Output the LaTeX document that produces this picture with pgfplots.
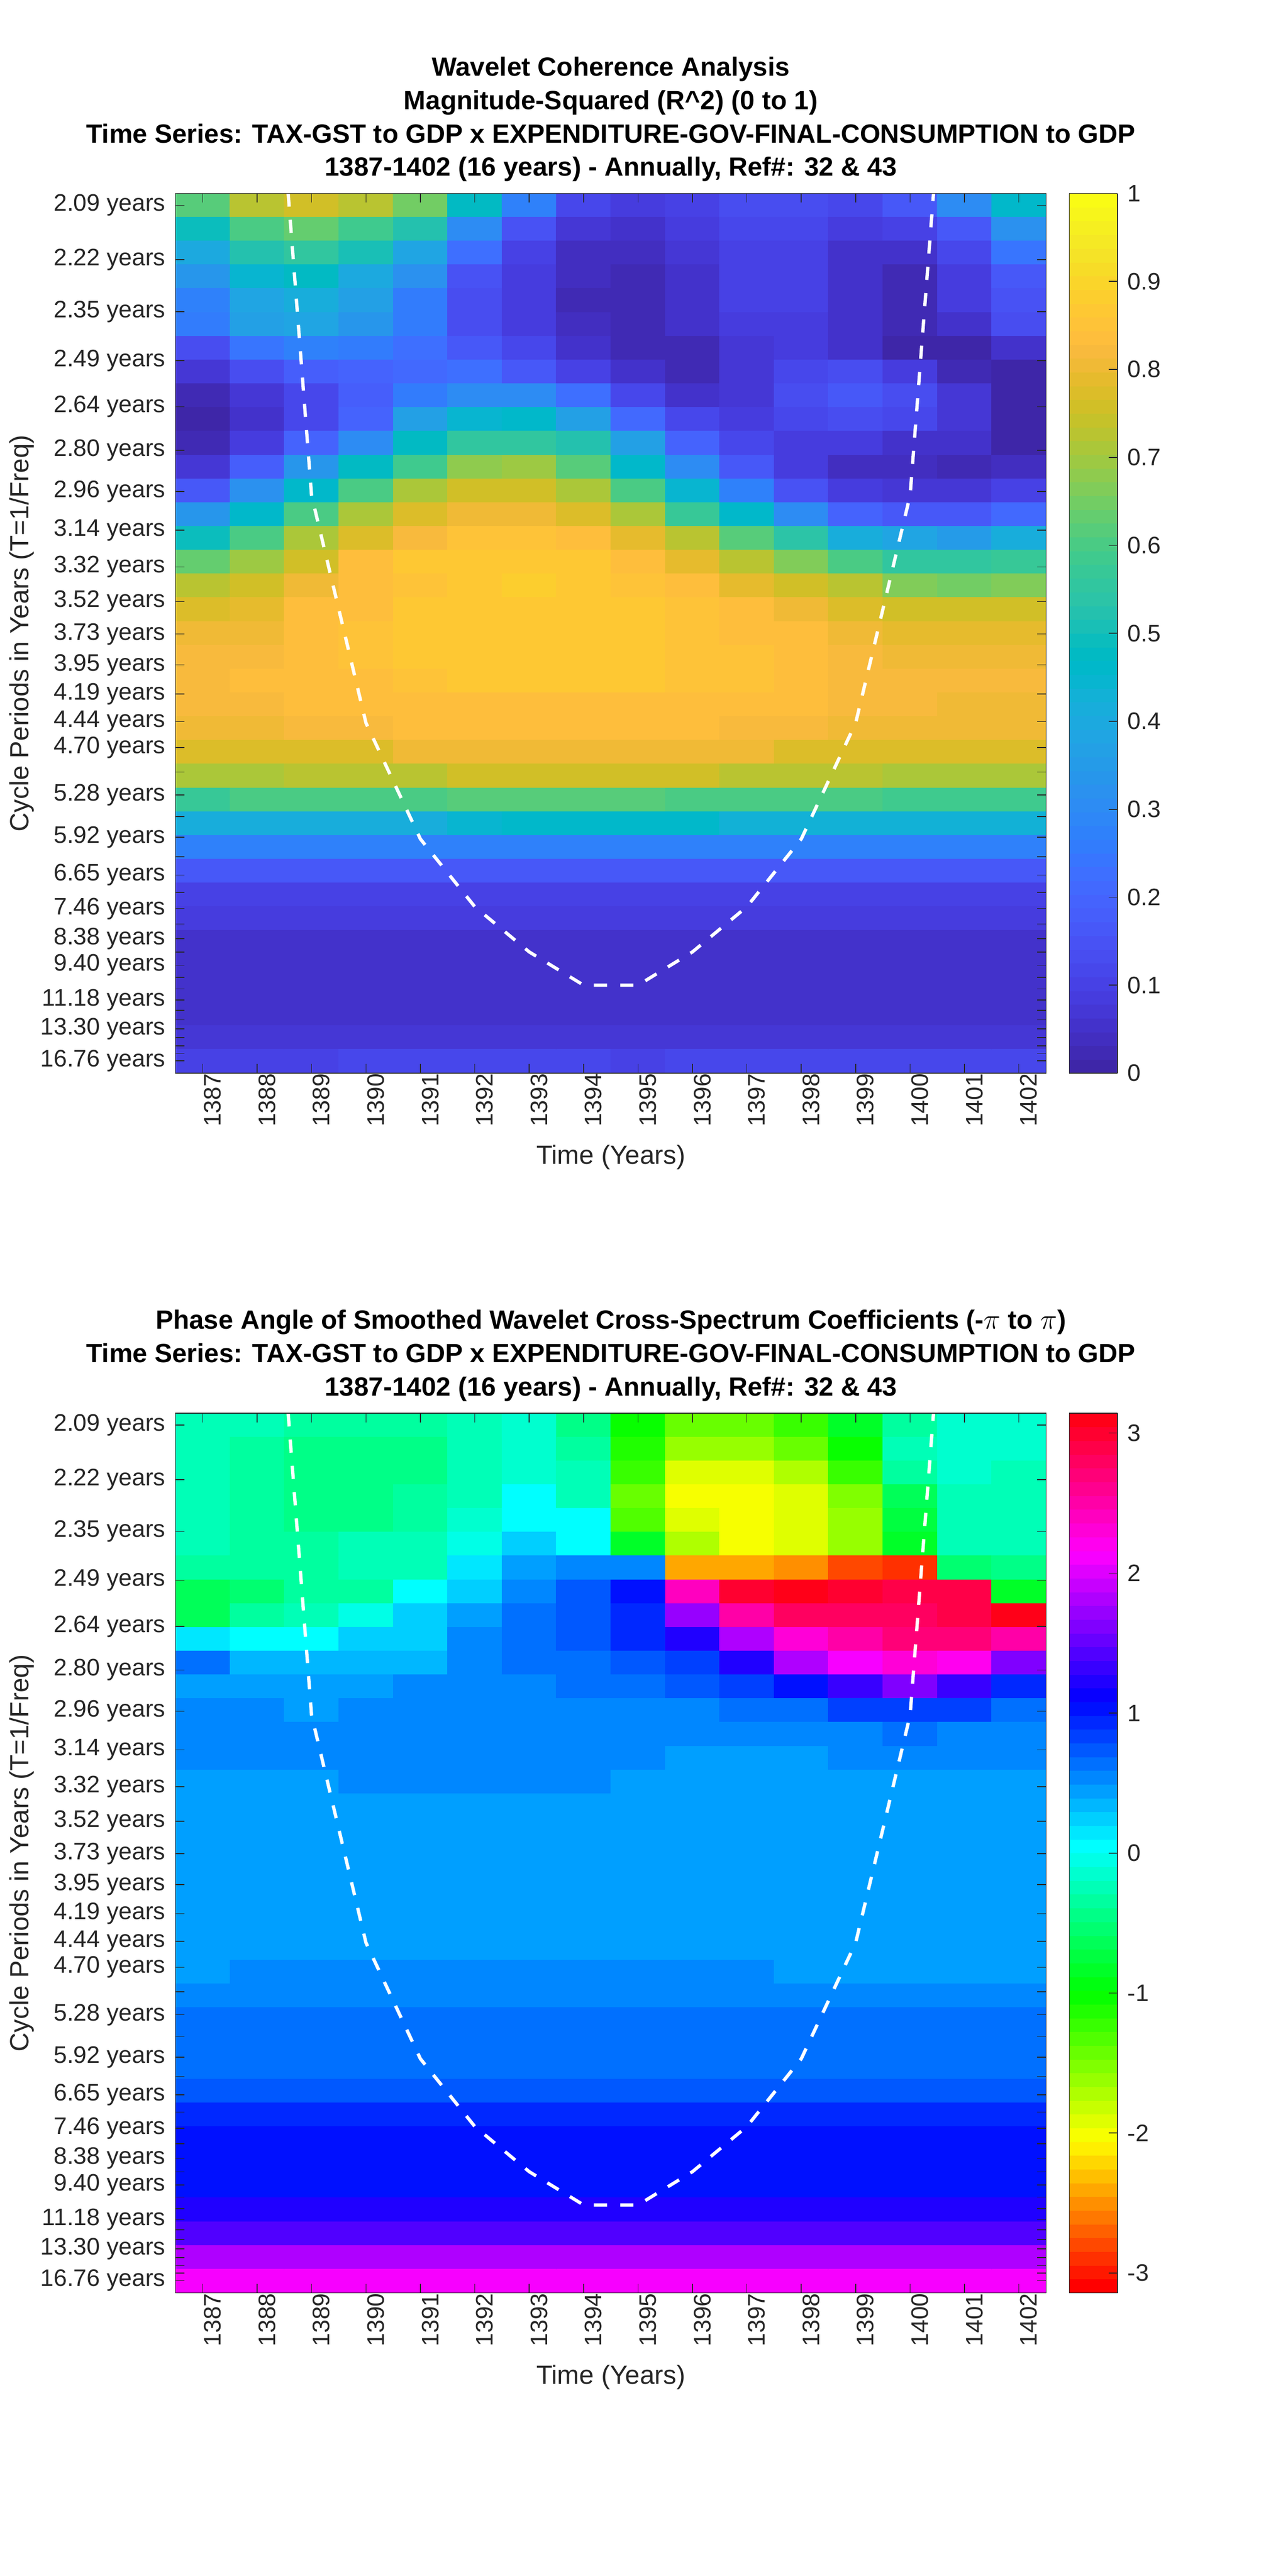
\documentclass[border=0pt]{standalone}
\usepackage{fontspec}
\setmainfont{Liberation Sans}
\usepackage{pgfplots}
\pgfplotsset{compat=1.18}
\definecolor{axgray}{HTML}{262626}
\newcommand{\tickfont}{\fontsize{14.5}{17}\selectfont}
\newcommand{\labfont}{\fontsize{16}{19}\selectfont}
\newcommand{\titfont}{\fontsize{16}{20.25}\selectfont\bfseries}

\pgfplotsset{
  colormap={parula}{
    rgb=(0.2422,0.1504,0.6603) rgb=(0.2504,0.1650,0.7076) rgb=(0.2578,0.1818,0.7511) rgb=(0.2647,0.1978,0.7952)
    rgb=(0.2706,0.2147,0.8364) rgb=(0.2751,0.2342,0.8710) rgb=(0.2783,0.2559,0.8991) rgb=(0.2803,0.2782,0.9221)
    rgb=(0.2813,0.3006,0.9414) rgb=(0.2810,0.3228,0.9579) rgb=(0.2795,0.3447,0.9717) rgb=(0.2760,0.3667,0.9829)
    rgb=(0.2699,0.3892,0.9906) rgb=(0.2602,0.4123,0.9952) rgb=(0.2440,0.4358,0.9988) rgb=(0.2206,0.4603,0.9973)
    rgb=(0.1963,0.4847,0.9892) rgb=(0.1834,0.5074,0.9798) rgb=(0.1786,0.5289,0.9682) rgb=(0.1764,0.5499,0.9520)
    rgb=(0.1687,0.5703,0.9359) rgb=(0.1540,0.5902,0.9218) rgb=(0.1460,0.6091,0.9079) rgb=(0.1380,0.6276,0.8973)
    rgb=(0.1248,0.6459,0.8883) rgb=(0.1113,0.6635,0.8763) rgb=(0.0952,0.6798,0.8598) rgb=(0.0689,0.6948,0.8394)
    rgb=(0.0297,0.7082,0.8163) rgb=(0.0036,0.7203,0.7917) rgb=(0.0067,0.7312,0.7660) rgb=(0.0433,0.7411,0.7394)
    rgb=(0.0964,0.7500,0.7120) rgb=(0.1408,0.7584,0.6842) rgb=(0.1717,0.7670,0.6554) rgb=(0.1938,0.7758,0.6251)
    rgb=(0.2161,0.7843,0.5923) rgb=(0.2470,0.7918,0.5567) rgb=(0.2906,0.7973,0.5188) rgb=(0.3406,0.8008,0.4789)
    rgb=(0.3909,0.8029,0.4354) rgb=(0.4456,0.8024,0.3909) rgb=(0.5044,0.7993,0.3480) rgb=(0.5616,0.7942,0.3045)
    rgb=(0.6174,0.7876,0.2612) rgb=(0.6720,0.7793,0.2227) rgb=(0.7242,0.7698,0.1910) rgb=(0.7738,0.7598,0.1646)
    rgb=(0.8203,0.7498,0.1535) rgb=(0.8634,0.7406,0.1596) rgb=(0.9035,0.7330,0.1774) rgb=(0.9393,0.7288,0.2100)
    rgb=(0.9728,0.7298,0.2394) rgb=(0.9956,0.7434,0.2371) rgb=(0.9970,0.7659,0.2199) rgb=(0.9952,0.7861,0.1999)
    rgb=(0.9892,0.8085,0.1816) rgb=(0.9786,0.8350,0.1639) rgb=(0.9676,0.8631,0.1521) rgb=(0.9610,0.8890,0.1537)
    rgb=(0.9597,0.9135,0.1423) rgb=(0.9628,0.9373,0.1265) rgb=(0.9691,0.9606,0.1064) rgb=(0.9769,0.9839,0.0805)
  },
  colormap={hsvbase}{
    rgb(0pt)=(1,0,0) rgb(10.667pt)=(1,1,0) rgb(21.333pt)=(0,1,0) rgb(32pt)=(0,1,1)
    rgb(42.667pt)=(0,0,1) rgb(53.333pt)=(1,0,1) rgb(63pt)=(1,0,0.094)
  },
  colormap={hsv64}{samples of colormap=(64 of hsvbase)},
  every axis title shift/.style={yshift=0pt},
  wavelet/.style={
    scale only axis, width=528.25pt, height=533.75pt,
    anchor=south west,
    xmin=1386.5, xmax=1402.5, ymin=0.5, ymax=37.5, y dir=reverse,
    axis on top, enlargelimits=false,
    colormap access=piecewise constant,
    /pgf/number format/1000 sep={},
    /pgf/number format/assume math mode=true,
    xtick={1387,...,1402},
    ytick={1,3.29,5.47,7.53,9.47,11.30,13.03,14.66,16.21,17.66,19.03,20.33,21.55,22.71,23.80,24.83,25.80,26.71,27.58,28.40,29.17,29.89,30.58,31.23,31.84,32.41,32.96,33.47,33.96,34.42,34.85,35.26,35.64,36.01,36.35,36.67,36.98},
    yticklabels={2.09 years,2.22 years,2.35 years,2.49 years,2.64 years,2.80 years,2.96 years,3.14 years,3.32 years,3.52 years,3.73 years,3.95 years,4.19 years,4.44 years,4.70 years,,5.28 years,,5.92 years,,6.65 years,,7.46 years,,8.38 years,,9.40 years,,,11.18 years,,,13.30 years,,,,16.76 years},
    tick align=inside, tick pos=both, xticklabel pos=bottom, yticklabel pos=left,
    major tick length=5.5pt,
    tick style={axgray, line width=0.5pt},
    axis line style={axgray, line width=0.5pt},
    xticklabel style={font=\tickfont, text=axgray, rotate=90, anchor=east, inner sep=0pt, yshift=-6pt},
    yticklabel style={font=\tickfont, text=axgray, anchor=east, inner sep=0pt, xshift=-6pt},
    xlabel={Time (Years)},
    ylabel={Cycle Periods in Years (T=1/Freq)},
    xlabel style={font=\labfont, text=axgray, at={(axis description cs:0.5,-0.1035)}, anchor=base, inner sep=0pt},
    ylabel style={font=\labfont, text=axgray, at={(axis description cs:-0.169,0.5)}, anchor=base, rotate=0, inner sep=0pt},
    title style={font=\titfont, align=center, at={(axis description cs:0.5,1)}, anchor=south, inner sep=0pt, yshift=1pt},
    colorbar sampled,
    colorbar style={
      at={(1.0265,1)}, anchor=north west,
      width=29.25pt, samples=65,
      xtick=\empty,
      tick align=inside, ytick pos=right, yticklabel pos=right,
      major tick length=5.25pt,
      tick style={axgray, line width=0.5pt},
      axis line style={axgray, line width=0.5pt},
      yticklabel style={font=\tickfont, text=axgray, anchor=west, inner sep=0pt, xshift=6pt},
    },
  },
  wcell/.style={matrix plot*, mesh/cols=16, mesh/rows=37, point meta=explicit, draw=none},
  coi/.style={white, line width=2pt, dash pattern=on 8pt off 8pt, no markers, forget plot},
}

\begin{document}
\begin{tikzpicture}
\path[use as bounding box] (0,0) rectangle (781.25pt,1563pt);

\begin{axis}[
  wavelet, at={(106.5pt,911.85pt)},
  colormap name=parula, point meta min=0, point meta max=1,
  title={Wavelet Coherence Analysis\\Magnitude-Squared (R\textasciicircum 2) (0 to 1)\\Time Series: TAX-GST to GDP x EXPENDITURE-GOV-FINAL-CONSUMPTION to GDP\\1387-1402 (16 years) - Annually, Ref\#: 32 \& 43},
  colorbar style={ytick={0,0.1,...,1}, yticklabels={0,0.1,0.2,0.3,0.4,0.5,0.6,0.7,0.8,0.9,1}},
]
\addplot[wcell] table[row sep=crcr, x expr={1387+mod(\coordindex,16)}, y expr={1+int((\coordindex+0.5)/16)}, meta=v] {v\\%
.62\\.72\\.75\\.73\\.65\\.47\\.27\\.11\\.08\\.10\\.13\\.13\\.12\\.16\\.30\\.46\\%
.49\\.60\\.64\\.59\\.53\\.31\\.15\\.07\\.06\\.08\\.11\\.11\\.08\\.10\\.17\\.32\\%
.40\\.53\\.56\\.50\\.39\\.22\\.10\\.04\\.04\\.07\\.10\\.10\\.05\\.06\\.12\\.24\\%
.33\\.44\\.47\\.40\\.32\\.15\\.08\\.04\\.02\\.05\\.10\\.10\\.05\\.03\\.09\\.17\\%
.27\\.39\\.42\\.37\\.26\\.13\\.08\\.03\\.02\\.05\\.10\\.10\\.05\\.03\\.08\\.15\\%
.25\\.37\\.39\\.34\\.25\\.14\\.09\\.04\\.02\\.05\\.09\\.09\\.05\\.03\\.06\\.13\\%
.14\\.24\\.28\\.26\\.22\\.17\\.12\\.05\\.03\\.03\\.07\\.08\\.06\\.01\\.01\\.05\\%
.07\\.13\\.18\\.19\\.21\\.22\\.17\\.10\\.05\\.03\\.07\\.12\\.13\\.08\\.03\\.01\\%
.02\\.07\\.12\\.18\\.26\\.31\\.30\\.22\\.12\\.05\\.07\\.13\\.16\\.13\\.07\\.01\\%
.00\\.05\\.11\\.20\\.36\\.44\\.46\\.37\\.21\\.11\\.08\\.11\\.13\\.11\\.07\\.01\\%
.03\\.09\\.19\\.31\\.47\\.56\\.56\\.52\\.37\\.19\\.11\\.08\\.08\\.06\\.05\\.01\\%
.07\\.18\\.33\\.47\\.58\\.68\\.69\\.61\\.46\\.30\\.16\\.09\\.04\\.04\\.03\\.04\\%
.17\\.32\\.46\\.60\\.71\\.76\\.76\\.71\\.60\\.45\\.27\\.15\\.09\\.07\\.07\\.10\\%
.34\\.46\\.60\\.71\\.78\\.80\\.80\\.78\\.71\\.57\\.46\\.31\\.20\\.17\\.17\\.21\\%
.49\\.60\\.71\\.77\\.82\\.85\\.85\\.83\\.79\\.72\\.61\\.54\\.41\\.38\\.35\\.42\\%
.63\\.70\\.76\\.83\\.86\\.87\\.87\\.87\\.84\\.79\\.73\\.66\\.60\\.55\\.55\\.57\\%
.72\\.76\\.80\\.83\\.85\\.87\\.88\\.87\\.85\\.83\\.79\\.75\\.72\\.66\\.65\\.66\\%
.78\\.79\\.83\\.84\\.86\\.87\\.87\\.87\\.87\\.85\\.83\\.80\\.78\\.75\\.75\\.75\\%
.80\\.81\\.83\\.85\\.87\\.87\\.87\\.87\\.87\\.85\\.835\\.83\\.81\\.79\\.79\\.79\\%
.82\\.82\\.835\\.85\\.87\\.87\\.87\\.87\\.87\\.85\\.85\\.84\\.82\\.80\\.80\\.80\\%
.82\\.83\\.83\\.84\\.85\\.87\\.87\\.87\\.87\\.85\\.85\\.84\\.82\\.82\\.82\\.82\\%
.82\\.82\\.83\\.83\\.84\\.84\\.84\\.84\\.84\\.84\\.83\\.83\\.82\\.82\\.80\\.80\\%
.80\\.80\\.82\\.82\\.83\\.83\\.83\\.83\\.83\\.83\\.82\\.82\\.80\\.80\\.80\\.80\\%
.77\\.78\\.78\\.78\\.80\\.80\\.80\\.80\\.80\\.80\\.80\\.78\\.78\\.78\\.77\\.77\\%
.71\\.71\\.73\\.73\\.73\\.75\\.75\\.75\\.75\\.75\\.73\\.73\\.73\\.71\\.71\\.71\\%
.57\\.60\\.60\\.60\\.60\\.62\\.62\\.62\\.62\\.60\\.60\\.60\\.60\\.58\\.58\\.58\\%
.42\\.42\\.42\\.42\\.42\\.44\\.46\\.46\\.46\\.46\\.43\\.43\\.43\\.43\\.43\\.43\\%
.28\\.28\\.28\\.28\\.28\\.28\\.28\\.28\\.28\\.28\\.28\\.28\\.28\\.28\\.28\\.28\\%
.165\\.165\\.165\\.165\\.165\\.165\\.165\\.165\\.165\\.165\\.165\\.165\\.165\\.165\\.165\\.165\\%
.105\\.105\\.105\\.105\\.105\\.105\\.105\\.105\\.105\\.105\\.105\\.105\\.105\\.105\\.105\\.105\\%
.08\\.08\\.08\\.08\\.08\\.08\\.08\\.08\\.08\\.08\\.08\\.08\\.08\\.08\\.08\\.08\\%
.06\\.06\\.06\\.06\\.06\\.06\\.06\\.06\\.06\\.06\\.06\\.06\\.06\\.06\\.06\\.06\\%
.055\\.055\\.055\\.055\\.055\\.055\\.055\\.055\\.055\\.055\\.055\\.055\\.055\\.055\\.055\\.055\\%
.055\\.055\\.055\\.055\\.055\\.055\\.055\\.055\\.055\\.055\\.055\\.055\\.055\\.055\\.055\\.055\\%
.055\\.055\\.055\\.055\\.055\\.055\\.055\\.055\\.055\\.055\\.055\\.055\\.055\\.055\\.055\\.055\\%
.07\\.07\\.07\\.07\\.07\\.07\\.07\\.07\\.07\\.07\\.07\\.07\\.07\\.07\\.07\\.07\\%
.105\\.105\\.105\\.115\\.115\\.115\\.115\\.115\\.105\\.115\\.115\\.115\\.115\\.115\\.115\\.115\\%
};
\addplot[coi] coordinates {(1388.57,0.5) (1389,13.2) (1390,22.77) (1391,27.65) (1392,30.5) (1393,32.4) (1394,33.8) (1395,33.8) (1396,32.4) (1397,30.5) (1398,27.65) (1399,22.77) (1400,13.2) (1400.43,0.5)};
\end{axis}

\begin{axis}[
  wavelet, at={(106.5pt,171.75pt)},
  colormap name=hsv64, point meta min=-3.14159, point meta max=3.14159,
  title={Phase Angle of Smoothed Wavelet Cross-Spectrum Coefficients (-$\pi$ to $\pi$)\\Time Series: TAX-GST to GDP x EXPENDITURE-GOV-FINAL-CONSUMPTION to GDP\\1387-1402 (16 years) - Annually, Ref\#: 32 \& 43},
  colorbar style={ytick={-3,-2,-1,0,1,2,3}, yticklabels={-3,-2,-1,0,1,2,3}},
]
\addplot[wcell] table[row sep=crcr, x expr={1387+mod(\coordindex,16)}, y expr={1+int((\coordindex+0.5)/16)}, meta=v] {v\\%
-.27\\-.27\\-.39\\-.39\\-.39\\-.27\\-.19\\-.42\\-1.05\\-1.47\\-1.47\\-1.25\\-.79\\-.32\\-.16\\-.16\\%
-.27\\-.37\\-.42\\-.42\\-.42\\-.27\\-.19\\-.32\\-1.1\\-1.65\\-1.65\\-1.47\\-1.05\\-.27\\-.16\\-.16\\%
-.27\\-.37\\-.42\\-.42\\-.42\\-.27\\-.13\\-.27\\-1.25\\-1.87\\-1.87\\-1.75\\-1.25\\-.37\\-.16\\-.21\\%
-.27\\-.37\\-.42\\-.42\\-.32\\-.25\\0\\-.25\\-1.47\\-1.97\\-1.97\\-1.87\\-1.53\\-.63\\-.27\\-.27\\%
-.27\\-.37\\-.42\\-.42\\-.32\\-.16\\.08\\0\\-1.32\\-1.87\\-1.97\\-1.87\\-1.65\\-.78\\-.27\\-.27\\%
-.27\\-.37\\-.37\\-.27\\-.27\\-.03\\.2\\.08\\-.84\\-1.75\\-1.97\\-1.87\\-1.65\\-.8\\-.27\\-.27\\%
-.37\\-.37\\-.37\\-.27\\-.27\\.1\\.4\\.5\\.5\\-2.44\\-2.44\\-2.55\\-2.75\\-2.86\\-.52\\-.42\\%
-.63\\-.52\\-.39\\-.32\\0\\.2\\.52\\.76\\1.05\\2.44\\3.01\\3.14\\3.01\\2.93\\2.93\\-.79\\%
-.63\\-.37\\-.27\\-.09\\.2\\.4\\.66\\.78\\.98\\1.68\\2.48\\2.79\\2.79\\2.79\\2.93\\3.13\\%
.1\\0\\0\\.21\\.29\\.55\\.68\\.76\\.9\\1.2\\1.77\\2.28\\2.55\\2.7\\2.7\\2.5\\%
.6\\.3\\.3\\.3\\.38\\.55\\.62\\.66\\.75\\.87\\1.2\\1.77\\2.09\\2.28\\2.2\\1.6\\%
.49\\.42\\.42\\.42\\.5\\.5\\.5\\.6\\.6\\.75\\.82\\1.05\\1.35\\1.6\\1.35\\.95\\%
.5\\.5\\.42\\.5\\.5\\.5\\.5\\.5\\.5\\.5\\.6\\.68\\.82\\.82\\.82\\.6\\%
.5\\.5\\.5\\.5\\.5\\.5\\.5\\.5\\.5\\.5\\.5\\.5\\.5\\.6\\.5\\.5\\%
.5\\.5\\.5\\.5\\.5\\.5\\.5\\.5\\.5\\.42\\.42\\.42\\.5\\.5\\.5\\.5\\%
.42\\.42\\.42\\.5\\.5\\.5\\.5\\.5\\.42\\.42\\.42\\.42\\.42\\.42\\.42\\.42\\%
.42\\.42\\.42\\.42\\.42\\.42\\.42\\.42\\.42\\.42\\.42\\.42\\.42\\.42\\.42\\.42\\%
.42\\.42\\.42\\.42\\.42\\.42\\.42\\.42\\.42\\.42\\.42\\.42\\.42\\.42\\.42\\.42\\%
.42\\.42\\.42\\.42\\.42\\.42\\.42\\.42\\.42\\.42\\.42\\.42\\.42\\.42\\.42\\.42\\%
.42\\.42\\.42\\.42\\.42\\.42\\.42\\.42\\.42\\.42\\.42\\.42\\.42\\.42\\.42\\.42\\%
.42\\.42\\.42\\.42\\.42\\.42\\.42\\.42\\.42\\.42\\.42\\.42\\.42\\.42\\.42\\.42\\%
.42\\.42\\.42\\.42\\.42\\.42\\.42\\.42\\.42\\.42\\.42\\.42\\.42\\.42\\.42\\.42\\%
.42\\.42\\.42\\.42\\.42\\.42\\.42\\.42\\.42\\.42\\.42\\.42\\.42\\.42\\.42\\.42\\%
.42\\.5\\.5\\.5\\.5\\.5\\.5\\.5\\.5\\.5\\.5\\.42\\.42\\.42\\.42\\.42\\%
.5\\.5\\.5\\.5\\.5\\.5\\.5\\.5\\.5\\.5\\.5\\.5\\.5\\.5\\.5\\.5\\%
.6\\.6\\.6\\.6\\.6\\.6\\.6\\.6\\.6\\.6\\.6\\.6\\.6\\.6\\.6\\.6\\%
.6\\.6\\.6\\.6\\.6\\.6\\.6\\.6\\.6\\.6\\.6\\.6\\.6\\.6\\.6\\.6\\%
.68\\.68\\.68\\.68\\.68\\.68\\.68\\.68\\.68\\.68\\.68\\.68\\.68\\.68\\.68\\.68\\%
.78\\.78\\.78\\.78\\.78\\.78\\.78\\.78\\.78\\.78\\.78\\.78\\.78\\.78\\.78\\.78\\%
.9\\.9\\.9\\.9\\.9\\.9\\.9\\.9\\.9\\.9\\.9\\.9\\.9\\.9\\.9\\.9\\%
1.02\\1.02\\1.02\\1.02\\1.02\\1.02\\1.02\\1.02\\1.02\\1.02\\1.02\\1.02\\1.02\\1.02\\1.02\\1.02\\%
1.02\\1.02\\1.02\\1.02\\1.02\\1.02\\1.02\\1.02\\1.02\\1.02\\1.02\\1.02\\1.02\\1.02\\1.02\\1.02\\%
1.05\\1.05\\1.05\\1.05\\1.05\\1.05\\1.05\\1.05\\1.05\\1.05\\1.05\\1.05\\1.05\\1.05\\1.05\\1.05\\%
1.25\\1.25\\1.25\\1.25\\1.25\\1.25\\1.25\\1.25\\1.25\\1.25\\1.25\\1.25\\1.25\\1.25\\1.25\\1.25\\%
1.47\\1.47\\1.47\\1.47\\1.47\\1.47\\1.47\\1.47\\1.47\\1.47\\1.47\\1.47\\1.47\\1.47\\1.47\\1.47\\%
1.77\\1.77\\1.77\\1.77\\1.77\\1.77\\1.77\\1.77\\1.77\\1.77\\1.77\\1.77\\1.77\\1.77\\1.77\\1.77\\%
2.09\\2.09\\2.09\\2.09\\2.09\\2.09\\2.09\\2.09\\2.09\\2.09\\2.09\\2.09\\2.09\\2.09\\2.09\\2.09\\%
};
\addplot[coi] coordinates {(1388.57,0.5) (1389,13.2) (1390,22.77) (1391,27.65) (1392,30.5) (1393,32.4) (1394,33.8) (1395,33.8) (1396,32.4) (1397,30.5) (1398,27.65) (1399,22.77) (1400,13.2) (1400.43,0.5)};
\end{axis}
\end{tikzpicture}
\end{document}
